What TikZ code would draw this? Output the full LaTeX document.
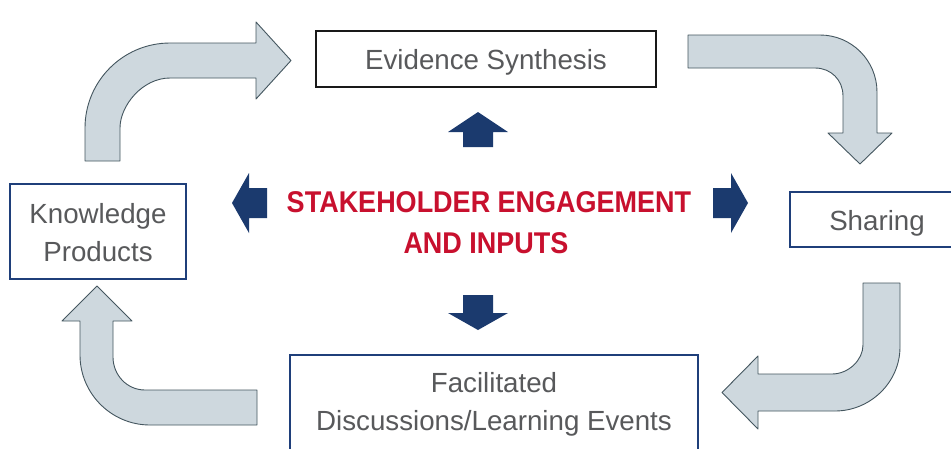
\documentclass[tikz,border=0pt]{standalone}
\usepackage{fontspec}
\setmainfont{Liberation Sans}
\definecolor{txtgray}{HTML}{58595B}
\definecolor{navy}{HTML}{1B3A6E}
\definecolor{boxblue}{HTML}{1F3F7A}
\definecolor{crimson}{HTML}{C8102E}
\definecolor{arrfill}{HTML}{CED8DE}
\definecolor{arrline}{HTML}{44565F}
\tikzset{
  lbl/.style={font=\fontsize{27.7}{38}\selectfont, text=txtgray, anchor=base, inner sep=0pt},
  redlbl/.style={font=\fontsize{30}{41}\selectfont\bfseries, text=crimson, anchor=base, inner sep=0pt, xscale=0.9},
  bluebox/.style={draw=boxblue, line width=2pt, fill=white, inner sep=0pt},
  blackbox/.style={draw=black!90, line width=2pt, fill=white, inner sep=0pt},
  grayarrow/.style={fill=arrfill, draw=arrline, line width=0.9pt, line join=round},
  navyarrow/.style={fill=navy, draw=none},
}
\begin{document}
\begin{tikzpicture}[x=1pt,y=-1pt]
\useasboundingbox (0,0) rectangle (951,448);
\fill[white] (0,0) rectangle (951,448);
\begin{scope}
\clip (0,0) rectangle (951,448);

% boxes
\node[blackbox, minimum width=340pt, minimum height=56pt] (evi) at (486,59) {};
\node[bluebox, minimum width=176pt, minimum height=55pt] (share) at (878,219.5) {};
\node[bluebox, minimum width=176pt, minimum height=95pt] (know) at (98,231.5) {};
\node[bluebox, minimum width=408pt, minimum height=110pt] (fac) at (494,410) {};

% texts
\node[lbl] (evit) at (486,69) {Evidence Synthesis};
\node[lbl] (sharet) at (877,230) {Sharing};
\node[lbl] (know1) at (98,223) {Knowledge};
\node[lbl] (know2) at (98,261) {Products};
\node[lbl] (fac1) at (494,392) {Facilitated};
\node[lbl] (fac2) at (494,430) {Discussions/Learning Events};
\node[redlbl] (red1) at (489,212) {STAKEHOLDER ENGAGEMENT};
\node[redlbl] (red2) at (486,253) {AND INPUTS};

% gray curved arrows
% top-left
\draw[grayarrow] (85,161) -- (85,128)
  .. controls (85,81.1) and (123.1,43) .. (170,43)
  -- (256,43) -- (256,22) -- (291,60.5) -- (256,99) -- (256,78) -- (170,78)
  .. controls (142.4,78) and (120,105.6) .. (120,128)
  -- (120,161) -- cycle;
% top-right
\draw[grayarrow] (688,35) -- (820,35)
  .. controls (851.5,35) and (877,60.5) .. (877,92)
  -- (877,133) -- (892,133) -- (860,164) -- (828,133) -- (843,133) -- (843,96)
  .. controls (843,80) and (831,68) .. (815,68)
  -- (688,68) -- cycle;
% bottom-right
\draw[grayarrow] (863,283) -- (900,283) -- (900,347)
  .. controls (900,382.3) and (870.3,411) .. (835,411)
  -- (758,411) -- (758,429) -- (722,392.5) -- (758,356) -- (758,374) -- (832,374)
  .. controls (848.5,374) and (863,360) .. (863,345)
  -- cycle;
% bottom-left
\draw[grayarrow] (257,425) -- (150,425)
  .. controls (111.4,425) and (80,393.6) .. (80,355)
  -- (80,321) -- (62,321) -- (97,286) -- (132,321) -- (113,321) -- (113,357)
  .. controls (113,375) and (127,390) .. (145,390)
  -- (257,390) -- cycle;

% navy arrows
\fill[navyarrow] (463,147) -- (463,132) -- (448,132) -- (478,112) -- (508,132) -- (493,132) -- (493,147) -- cycle;
\fill[navyarrow] (463,295) -- (493,295) -- (493,313) -- (508,313) -- (478,330) -- (448,313) -- (463,313) -- cycle;
\fill[navyarrow] (267,188) -- (249,188) -- (249,173) -- (232,203) -- (249,233) -- (249,218) -- (267,218) -- cycle;
\fill[navyarrow] (713,188) -- (731,188) -- (731,173) -- (748,203) -- (731,233) -- (731,218) -- (713,218) -- cycle;
\end{scope}
\end{tikzpicture}
\end{document}
